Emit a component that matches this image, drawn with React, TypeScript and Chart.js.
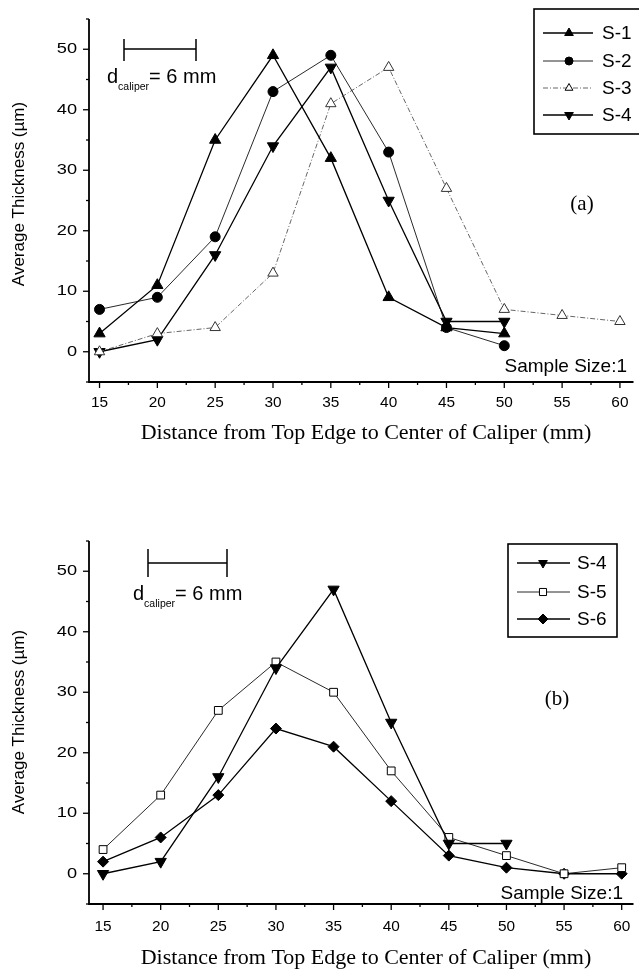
import React, { useEffect, useRef } from 'react';
import { Chart, registerables } from 'chart.js';
Chart.register(...registerables);

// ---------- data ----------
const X_TICKS = [15, 20, 25, 30, 35, 40, 45, 50, 55, 60];
const Y_TICKS = [0, 10, 20, 30, 40, 50];

const X_A = [15, 20, 25, 30, 35, 40, 45, 50];
const X_A3 = [15, 20, 25, 30, 35, 40, 45, 50, 55, 60];
const S1 = [3, 11, 35, 49, 32, 9, 4, 3];
const S2 = [7, 9, 19, 43, 49, 33, 4, 1];
const S3 = [0, 3, 4, 13, 41, 47, 27, 7, 6, 5];
const S4 = [0, 2, 16, 34, 47, 25, 5, 5];

const X_B = [15, 20, 25, 30, 35, 40, 45, 50, 55, 60];
const S5 = [4, 13, 27, 35, 30, 17, 6, 3, 0, 1];
const S6 = [2, 6, 13, 24, 21, 12, 3, 1, 0, 0];

const LEGEND_A = ['S-1', 'S-2', 'S-3', 'S-4'];
const LEGEND_B = ['S-4', 'S-5', 'S-6'];

const X_TITLE = 'Distance from Top Edge to Center of Caliper (mm)';
const Y_TITLE = 'Average Thickness (\u00b5m)';
const SAMPLE = 'Sample Size:1';

// ---------- styles ----------
type Sty = { color: string; width: number; dash: number[]; point: string; rot: number; r: number; fill: string; lr: number };
const STY: Record<string, Sty> = {
  'S-1': { color: '#000', width: 1.3, dash: [], point: 'triangle', rot: 0, r: 6.5, fill: '#000', lr: 5 },
  'S-2': { color: '#111', width: 0.9, dash: [], point: 'circle', rot: 0, r: 5, fill: '#000', lr: 4 },
  'S-3': { color: '#555', width: 0.9, dash: [5, 2, 1, 2], point: 'triangle', rot: 0, r: 6, fill: '#fff', lr: 4.5 },
  'S-4': { color: '#000', width: 1.3, dash: [], point: 'triangle', rot: 180, r: 6.5, fill: '#000', lr: 5 },
  'S-5': { color: '#111', width: 0.9, dash: [], point: 'rect', rot: 0, r: 5.5, fill: '#fff', lr: 5 },
  'S-6': { color: '#000', width: 1.3, dash: [], point: 'rectRot', rot: 0, r: 5.5, fill: '#000', lr: 5 },
};

const SANS = '"Liberation Sans", Arial, sans-serif';
const SERIF = '"Liberation Serif", "Times New Roman", serif';

const pts = (xs: number[], ys: number[]) => xs.map((x, i) => ({ x, y: ys[i] }));

function mkDs(label: string, xs: number[], ys: number[]) {
  const s = STY[label];
  return {
    label,
    data: pts(xs, ys),
    borderColor: s.color,
    borderWidth: s.width,
    borderDash: s.dash,
    pointStyle: s.point,
    pointRotation: s.rot,
    pointRadius: s.r,
    pointBackgroundColor: s.fill,
    pointBorderColor: s.point === 'triangle' && s.fill === '#fff' ? '#333' : '#000',
    pointBorderWidth: 1,
    tension: 0,
    fill: false,
    showLine: true,
  };
}

function drawMarker(ctx: CanvasRenderingContext2D, s: Sty, x: number, y: number, r: number) {
  ctx.save();
  ctx.beginPath();
  ctx.setLineDash([]);
  if (s.point === 'circle') {
    ctx.arc(x, y, r, 0, Math.PI * 2);
  } else if (s.point === 'triangle') {
    let rad = (s.rot * Math.PI) / 180;
    ctx.moveTo(x + Math.sin(rad) * r, y - Math.cos(rad) * r);
    rad += (2 * Math.PI) / 3;
    ctx.lineTo(x + Math.sin(rad) * r, y - Math.cos(rad) * r);
    rad += (2 * Math.PI) / 3;
    ctx.lineTo(x + Math.sin(rad) * r, y - Math.cos(rad) * r);
    ctx.closePath();
  } else if (s.point === 'rect') {
    const h = Math.SQRT1_2 * r;
    ctx.rect(x - h, y - h, 2 * h, 2 * h);
  } else {
    ctx.moveTo(x, y - r);
    ctx.lineTo(x + r, y);
    ctx.lineTo(x, y + r);
    ctx.lineTo(x - r, y);
    ctx.closePath();
  }
  ctx.fillStyle = s.fill;
  ctx.fill();
  ctx.lineWidth = 1;
  ctx.strokeStyle = '#000';
  ctx.stroke();
  ctx.restore();
}

function stretchText(ctx: CanvasRenderingContext2D, text: string, x: number, y: number, sx: number, align: CanvasTextAlign) {
  ctx.save();
  ctx.translate(x, y);
  ctx.scale(sx, 1);
  ctx.textAlign = align;
  ctx.fillText(text, 0, 0);
  ctx.restore();
}

type PanelCfg = {
  top: number;
  height: number;
  pad: { left: number; top: number; right: number; bottom: number };
  xMin: number;
  xMax: number;
  datasets: any[];
  legend: { names: string[]; x0: number; y0: number; x1: number; y1: number; lx0: number; lx1: number; mx: number; tx: number; rows: number[] };
  tag: { text: string; x: number; y: number };
  bar: { x0: number; x1: number; y: number; cap0: number; cap1: number; tx: number; ty: number };
  sample: { x: number; y: number };
  yTitleY: number;
  tickDy: number;
  titleDy: number;
};

function Panel({ cfg }: { cfg: PanelCfg }) {
  const ref = useRef<HTMLCanvasElement | null>(null);
  useEffect(() => {
    if (!ref.current) return;
    const off = cfg.top;
    const decor = {
      id: 'decor',
      afterDraw(chart: any) {
        const ctx: CanvasRenderingContext2D = chart.ctx;
        const a = chart.chartArea;
        const xs = chart.scales.x;
        const ys = chart.scales.y;
        ctx.save();
        ctx.strokeStyle = '#000';
        ctx.fillStyle = '#000';
        // axes
        ctx.lineWidth = 1.8;
        ctx.beginPath();
        ctx.moveTo(a.left, a.top);
        ctx.lineTo(a.left, a.bottom);
        ctx.lineTo(a.right + 2, a.bottom);
        ctx.stroke();
        // y ticks
        ctx.lineWidth = 1.3;
        for (let v = -5; v <= 55; v += 5) {
          const y = ys.getPixelForValue(v);
          const major = v % 10 === 0;
          ctx.beginPath();
          ctx.moveTo(a.left - (major ? 6 : 3), y);
          ctx.lineTo(a.left, y);
          ctx.stroke();
        }
        // x ticks
        for (let v = 15; v <= 60.01; v += 2.5) {
          const x = xs.getPixelForValue(v);
          const major = v % 5 === 0;
          ctx.beginPath();
          ctx.moveTo(x, a.bottom);
          ctx.lineTo(x, a.bottom + (major ? 6 : 3));
          ctx.stroke();
        }
        // tick labels
        ctx.font = `14px ${SANS}`;
        ctx.textBaseline = 'middle';
        Y_TICKS.forEach((v) => stretchText(ctx, String(v), a.left - 12, ys.getPixelForValue(v), 1.3, 'right'));
        X_TICKS.forEach((v) => stretchText(ctx, String(v), xs.getPixelForValue(v), a.bottom + cfg.tickDy, 1.1, 'center'));
        // x title
        ctx.font = `22px ${SERIF}`;
        ctx.textAlign = 'center';
        ctx.fillText(X_TITLE, 366, a.bottom + cfg.titleDy);
        // y title
        ctx.save();
        ctx.translate(19, cfg.yTitleY - off);
        ctx.rotate(-Math.PI / 2);
        ctx.font = `17px ${SANS}`;
        ctx.textAlign = 'center';
        ctx.fillText(Y_TITLE, 0, 0);
        ctx.restore();
        // sample size
        ctx.font = `19px ${SANS}`;
        ctx.textAlign = 'right';
        ctx.fillText(SAMPLE, cfg.sample.x, cfg.sample.y - off);
        // tag
        ctx.font = `21px ${SERIF}`;
        ctx.textAlign = 'center';
        ctx.fillText(cfg.tag.text, cfg.tag.x, cfg.tag.y - off);
        // scale bar
        const b = cfg.bar;
        ctx.lineWidth = 1.5;
        ctx.beginPath();
        ctx.moveTo(b.x0, b.y - off);
        ctx.lineTo(b.x1, b.y - off);
        ctx.moveTo(b.x0, b.cap0 - off);
        ctx.lineTo(b.x0, b.cap1 - off);
        ctx.moveTo(b.x1, b.cap0 - off);
        ctx.lineTo(b.x1, b.cap1 - off);
        ctx.stroke();
        ctx.textBaseline = 'alphabetic';
        ctx.textAlign = 'left';
        ctx.font = `20px ${SANS}`;
        ctx.fillText('d', b.tx, b.ty - off);
        let tx = b.tx + ctx.measureText('d').width;
        ctx.font = `10.5px ${SANS}`;
        ctx.fillText('caliper', tx, b.ty - off + 7);
        tx += ctx.measureText('caliper').width;
        ctx.font = `20px ${SANS}`;
        ctx.fillText('= 6 mm', tx, b.ty - off);
        // legend
        const L = cfg.legend;
        ctx.lineWidth = 1.6;
        ctx.strokeRect(L.x0, L.y0 - off, L.x1 - L.x0, L.y1 - L.y0);
        ctx.textBaseline = 'middle';
        ctx.font = `19px ${SANS}`;
        L.names.forEach((n, i) => {
          const s = STY[n];
          const y = L.rows[i] - off;
          ctx.save();
          ctx.strokeStyle = s.color;
          ctx.lineWidth = s.width;
          ctx.setLineDash(s.dash);
          ctx.beginPath();
          ctx.moveTo(L.lx0, y);
          ctx.lineTo(L.lx1, y);
          ctx.stroke();
          ctx.restore();
          drawMarker(ctx, s, L.mx, y, s.lr);
          ctx.fillStyle = '#000';
          ctx.textAlign = 'left';
          ctx.fillText(n, L.tx, y + 1);
        });
        ctx.restore();
      },
    };
    const chart = new Chart(ref.current, {
      type: 'line',
      data: { datasets: cfg.datasets },
      options: {
        animation: false,
        responsive: false,
        devicePixelRatio: 1,
        layout: { padding: cfg.pad },
        scales: {
          x: { type: 'linear', min: cfg.xMin, max: cfg.xMax, display: false },
          y: { type: 'linear', min: -5, max: 55, display: false },
        },
        plugins: { legend: { display: false }, tooltip: { enabled: false } },
      } as any,
      plugins: [decor],
    });
    return () => chart.destroy();
  }, [cfg]);
  return (
    <canvas
      ref={ref}
      width={639}
      height={cfg.height}
      style={{ position: 'absolute', left: 0, top: cfg.top, width: 639, height: cfg.height }}
    />
  );
}

const CFG_A: PanelCfg = {
  top: 0,
  height: 470,
  pad: { left: 89, top: 19, right: 0, bottom: 470 - 382 },
  xMin: 14.09,
  xMax: 61.0,
  datasets: [mkDs('S-1', X_A, S1), mkDs('S-2', X_A, S2), mkDs('S-3', X_A3, S3), mkDs('S-4', X_A, S4)],
  legend: { names: LEGEND_A, x0: 534, y0: 9, x1: 645, y1: 134, lx0: 543, lx1: 593, mx: 569, tx: 602, rows: [33, 61, 88, 115] },
  tag: { text: '(a)', x: 582, y: 204 },
  bar: { x0: 124, x1: 196, y: 49, cap0: 39, cap1: 61, tx: 107, ty: 83 },
  sample: { x: 627, y: 367 },
  yTitleY: 194,
  tickDy: 21,
  titleDy: 51,
};

const CFG_B: PanelCfg = {
  top: 480,
  height: 490,
  pad: { left: 89, top: 61, right: 0, bottom: 490 - 424 },
  xMin: 13.78,
  xMax: 60.85,
  datasets: [mkDs('S-4', X_A, S4), mkDs('S-5', X_B, S5), mkDs('S-6', X_B, S6)],
  legend: { names: LEGEND_B, x0: 508, y0: 544, x1: 617, y1: 637, lx0: 517, lx1: 570, mx: 543, tx: 577, rows: [563, 592, 619] },
  tag: { text: '(b)', x: 557, y: 699 },
  bar: { x0: 148, x1: 227, y: 563, cap0: 549, cap1: 577, tx: 133, ty: 600 },
  sample: { x: 623, y: 894 },
  yTitleY: 722,
  tickDy: 23,
  titleDy: 54,
};

export default function App() {
  return (
    <div style={{ position: 'absolute', left: 0, top: 0, width: 639, height: 970, background: '#fff' }}>
      <Panel cfg={CFG_A} />
      <Panel cfg={CFG_B} />
    </div>
  );
}
